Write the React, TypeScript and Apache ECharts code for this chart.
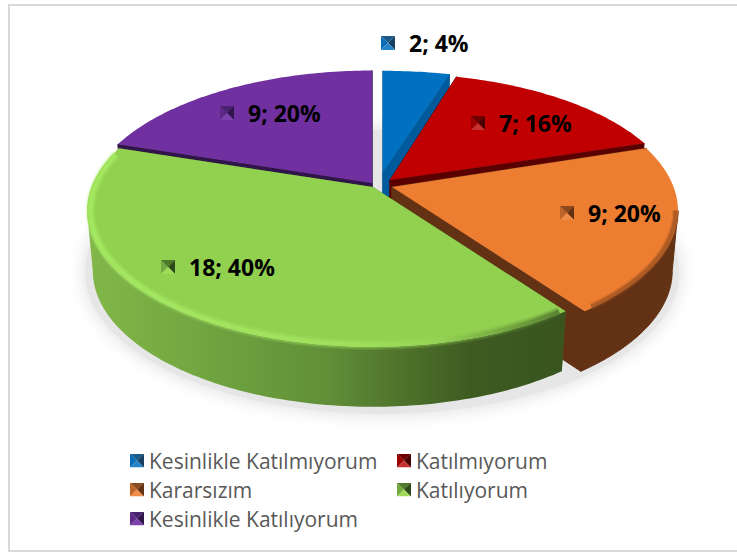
import React, { useEffect, useRef } from "react";
import * as echarts from "echarts";

const categories = ["Kesinlikle Katılmıyorum", "Katılmıyorum", "Kararsızım", "Katılıyorum", "Kesinlikle Katılıyorum"];
const counts = [2, 7, 9, 18, 9];
const percents = [4, 16, 20, 40, 20];
const faceColors = ["#0070C0", "#C00000", "#ED7D31", "#92D050", "#7030A0"];
const wallColors = ["#015a9b", "#5a0000", "#633114", "#3f5e22", "#2f1549"];
// pyramid marker shades: left, top, right, bottom
const markerShades = [
  ["#0a6cb5", "#1a5b8c", "#173f5f", "#2583c8"],
  ["#9c0000", "#6e0000", "#4a0000", "#c53030"],
  ["#bf6428", "#8a4a20", "#633114", "#f08c45"],
  ["#74a840", "#4f7a2c", "#2f4a1a", "#a0dc5a"],
  ["#5c2885", "#4a2270", "#2f1549", "#7e40ad"],
];

// layout only
const A = 281.6, B = 132, K = 0.174, DEPTH = 60, TAPER = 0.98;
const WALL_FROM = 100, WALL_TO = 260; // angles of the widest rim points
const apexes = [[383, 172, 0.9], [390, 180, 0.95], [392, 187, 1], [373, 187, 1], [372, 183, 1]];
const labelAt = [[381, 43], [471, 123], [560, 213], [161, 267], [220, 113]];
const drawOrder = [0, 1, 2, 4, 3];

const total = counts.reduce((a, b) => a + b, 0);
function sliceAngles(i: number): [number, number] {
  let s = 0;
  for (let j = 0; j < i; j++) s += counts[j];
  return [(s / total) * 360, ((s + counts[i]) / total) * 360];
}
function rim(i: number, deg: number, r = 1): [number, number] {
  const t = (deg * Math.PI) / 180;
  const X = Math.sin(t), Y = Math.cos(t), d = 1 + K * Y;
  const [ax, ay, sy] = apexes[i];
  return [ax + (r * A * X) / d, ay - (r * B * sy * Y) / d];
}
function arc(i: number, a: number, b: number, r = 1) {
  const pts: [number, number][] = [];
  const n = Math.max(2, Math.ceil(Math.abs(b - a)));
  for (let k = 0; k <= n; k++) pts.push(rim(i, a + ((b - a) * k) / n, r));
  return pts;
}
const H = (stops: [number, string][]) =>
  new echarts.graphic.LinearGradient(0, 0, 1, 0, stops.map(([offset, color]) => ({ offset, color })));

function markerSvg(i: number) {
  const [l, t, r, b] = markerShades[i];
  const s = `<svg xmlns="http://www.w3.org/2000/svg" width="14" height="14"><polygon points="0,0 7,7 0,14" fill="${l}"/><polygon points="0,0 14,0 7,7" fill="${t}"/><polygon points="14,0 14,14 7,7" fill="${r}"/><polygon points="0,14 7,7 14,14" fill="${b}"/></svg>`;
  return "image://data:image/svg+xml;charset=utf-8," + encodeURIComponent(s);
}

function renderSlice(i: number) {
  return (_params: any, api: any) => {
    const v = api.value(0);
    const [a0, a1] = sliceAngles(i);
    const [ax, ay] = apexes[i];
    const apex: [number, number] = [ax, ay];
    const down = (p: number[]): [number, number] => [ax + (p[0] - ax) * TAPER, p[1] + DEPTH];
    const top = arc(i, a0, a1);
    const children: any[] = [];
    const poly = (pts: number[][], fill: any, stroke?: any) => ({
      type: "polygon",
      silent: true,
      shape: { points: pts },
      style: { fill, stroke: stroke || null, lineWidth: stroke ? 1 : 0 },
    });

    const wallFill =
      i === 3
        ? H([[0, "#82b849"], [0.33, "#6b9e3d"], [0.5, "#618f38"], [0.66, "#4e722b"], [0.8, "#3e5c22"], [1, "#39541f"]])
        : wallColors[i];
    // radial walls
    [a0, a1].forEach((ang) => {
      const p = rim(i, ang);
      children.push(poly([apex, p, down(p), down(apex)], wallColors[i], i === 3 ? undefined : wallColors[i]));
    });
    // outer wall, only where it faces the viewer
    const w0 = Math.max(a0, WALL_FROM), w1 = Math.min(a1, WALL_TO);
    if (w1 > w0) {
      const band = arc(i, w0, w1);
      children.push(poly([...band, ...band.slice().reverse().map(down)], wallFill, i === 3 ? undefined : wallColors[i]));
    }
    // top face
    children.push(poly([apex, ...top], faceColors[i]));

    // soft bevel along the front rim
    const line = (pts: number[][], stroke: any, w: number, opacity: number) => ({
      type: "polyline",
      silent: true,
      shape: { points: pts },
      style: { stroke, lineWidth: w, fill: null, opacity, lineCap: "butt", lineJoin: "round" },
    });
    if (i === 3) {
      const g = H([[0, "#a8ee64"], [0.55, "#a4e55f"], [0.74, "#96d455"], [0.88, "#6d9f3c"], [1, "#4a6e2a"]]);
      const edge = arc(i, a0 + 1, a1 - 3, 0.988);
      children.push(line(edge, g, 10, 0.2));
      children.push(line(edge, g, 7, 0.3));
      children.push(line(edge, g, 4, 0.6));
    }
    if (i === 2) {
      const edge = arc(i, 100, a1 - 2, 0.992);
      children.push(line(edge, "#a75a26", 7, 0.3));
      children.push(line(edge, "#85441c", 4, 0.5));
    }

    // data label marker + text
    const [mx, my] = labelAt[i];
    const S = 14;
    const tl = [mx, my - S / 2], tr = [mx + S, my - S / 2], bl = [mx, my + S / 2], br = [mx + S, my + S / 2], c = [mx + S / 2, my];
    const sh = markerShades[i];
    children.push(poly([tl, c, bl], sh[0]), poly([tl, tr, c], sh[1]), poly([tr, br, c], sh[2]), poly([bl, c, br], sh[3]));
    children.push({
      type: "text",
      silent: true,
      style: {
        text: `${v}; ${percents[i]}%`,
        x: mx + S + 14,
        y: my,
        fill: "#000000",
        font: 'bold 23px "Open Sans"',
        align: "left",
        verticalAlign: "middle",
      },
    });
    return { type: "group", children };
  };
}

export default function App() {
  const ref = useRef<HTMLDivElement>(null);
  useEffect(() => {
    document.body.style.margin = "0";
    const chart = echarts.init(ref.current!, undefined, { renderer: "svg" });
    const legendText = { fontFamily: "Open Sans", fontSize: 21, color: "#595959" };
    const legendBase = { orient: "vertical", padding: 0, itemWidth: 14, itemHeight: 14, itemGap: 8, textStyle: legendText, selectedMode: false };
    chart.setOption({
      animation: false,
      backgroundColor: "#ffffff",
      graphic: [
        { type: "rect", z: 0, shape: { x: 9, y: 5, width: 800, height: 546 }, style: { fill: "#ffffff", stroke: "#d9d9d9", lineWidth: 2 } },
        { type: "ellipse", z: 1, shape: { cx: 382, cy: 272, rx: 297, ry: 142 }, style: { fill: "#e6e6e6", shadowBlur: 18, shadowColor: "#dcdcdc" } },
      ],
      legend: [
        { ...legendBase, left: 130, top: 450, data: [0, 2, 4].map((i) => ({ name: categories[i], icon: markerSvg(i) })) },
        { ...legendBase, left: 397, top: 450, data: [1, 3].map((i) => ({ name: categories[i], icon: markerSvg(i) })) },
      ],
      series: drawOrder.map((i) => ({
        type: "custom",
        name: categories[i],
        coordinateSystem: "none",
        silent: true,
        clip: false,
        itemStyle: { color: faceColors[i] },
        renderItem: renderSlice(i),
        data: [[counts[i]]],
      })),
    });
    return () => chart.dispose();
  }, []);
  return <div ref={ref} style={{ position: "absolute", left: 0, top: 0, width: 737, height: 552, overflow: "hidden" }} />;
}
